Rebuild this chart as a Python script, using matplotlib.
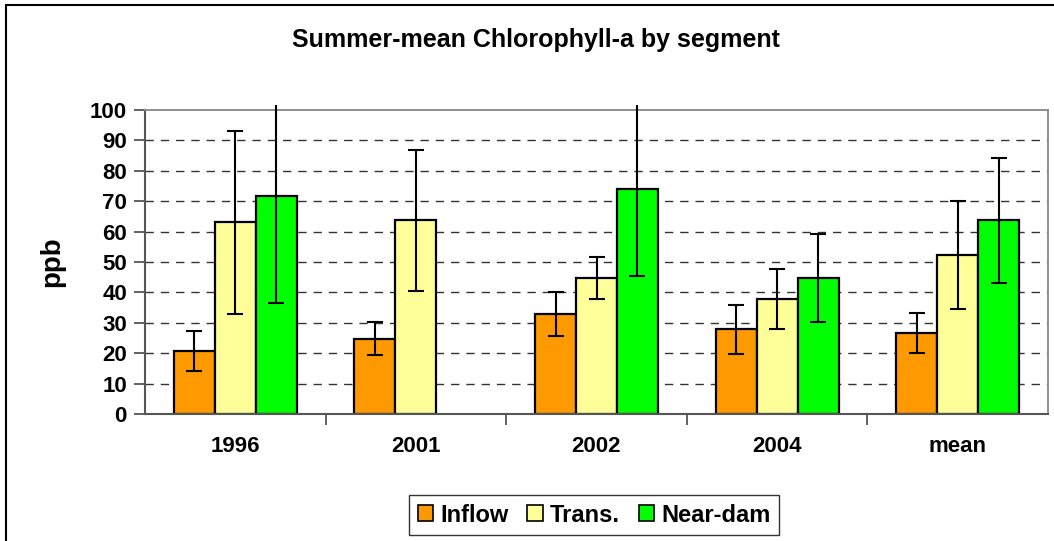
import matplotlib.pyplot as plt
import numpy as np
from matplotlib.patches import Rectangle
from matplotlib import rcParams

rcParams['font.family'] = ['Liberation Sans', 'DejaVu Sans']
rcParams['font.weight'] = 'bold'

# Данные
categories = ['1996', '2001', '2002', '2004', 'mean']
series = ['Inflow', 'Trans.', 'Near-dam']
inflow = [20.7, 24.7, 32.8, 27.8, 26.6]
inflow_err = [6.5, 5.4, 7.3, 8.0, 6.6]
trans = [63.0, 63.8, 44.7, 37.8, 52.4]
trans_err = [30.0, 23.2, 7.0, 10.0, 17.8]
neardam = [71.8, np.nan, 73.9, 44.8, 63.7]
neardam_err = [35.3, np.nan, 28.5, 14.5, 20.5]
colors = ['#FF9900', '#FFFF99', '#00FF00']

fig = plt.figure(figsize=(10.54, 5.41), dpi=100)
ax = fig.add_axes([145 / 1054, 1 - 414 / 541, (1048 - 145) / 1054, (414 - 110) / 541])

# рамка всей диаграммы
fig.patches.append(Rectangle((6 / 1054, -0.1), 1.2, 1 - 5 / 541 + 0.1, transform=fig.transFigure,
                             fill=False, edgecolor='black', linewidth=1.5, zorder=0))

x = np.arange(len(categories))
w = 0.227
clip = Rectangle((0, 0), 1, 1.015, transform=ax.transAxes, visible=False)
ax.add_patch(clip)
for i, (vals, errs) in enumerate([(inflow, inflow_err), (trans, trans_err), (neardam, neardam_err)]):
    pos = x + (i - 1) * w
    ax.bar(pos, vals, w, color=colors[i], edgecolor='black', linewidth=1.6, label=series[i], zorder=2)
    eb = ax.errorbar(pos, vals, yerr=errs, fmt='none', ecolor='black', elinewidth=1.5,
                     capsize=6, capthick=1.5, zorder=3)
    for art in eb.lines[1] + eb.lines[2]:
        art.set_clip_on(True)
        art.set_clip_path(clip)

ax.set_xlim(-0.5, len(categories) - 0.5)
ax.set_ylim(0, 100)
ax.set_yticks(range(0, 101, 10))
ax.set_xticks(x)
ax.set_xticklabels(categories, fontsize=16, fontweight='bold')
ax.set_xticks(np.arange(0.5, len(categories) - 0.5, 1), minor=True)
ax.tick_params(axis='x', which='major', length=0, pad=16)
ax.tick_params(axis='x', which='minor', length=8, width=1.3, color='#555555', direction='out')
ax.tick_params(axis='y', length=8, width=1.3, color='#555555', labelsize=16, pad=5)
for lab in ax.get_yticklabels():
    lab.set_fontweight('bold')

for yv in range(10, 100, 10):
    ax.axhline(yv, color='#333333', linestyle=(0, (6, 5)), linewidth=1.0, zorder=1)

for side in ['top', 'right']:
    ax.spines[side].set_color('#888888')
    ax.spines[side].set_linewidth(1.3)
for side in ['left', 'bottom']:
    ax.spines[side].set_color('#555555')
    ax.spines[side].set_linewidth(1.5)

ax.set_ylabel('ppb', fontsize=20, fontweight='bold', labelpad=18)
fig.text(536 / 1054, 1 - 40 / 541, 'Summer-mean Chlorophyll-a by segment', ha='center', va='center',
         fontsize=18, fontweight='bold')

leg = fig.legend(loc='center', bbox_to_anchor=(594 / 1054, 1 - 515 / 541), ncol=3, fontsize=17,
                 frameon=True, fancybox=False, edgecolor='black', handlelength=0.65, handleheight=0.65,
                 handletextpad=0.3, columnspacing=0.8, borderpad=0.35)
leg.get_frame().set_linewidth(1.0)
for h in leg.legend_handles:
    h.set_linewidth(1.2)

plt.savefig('out.png', dpi=100)
